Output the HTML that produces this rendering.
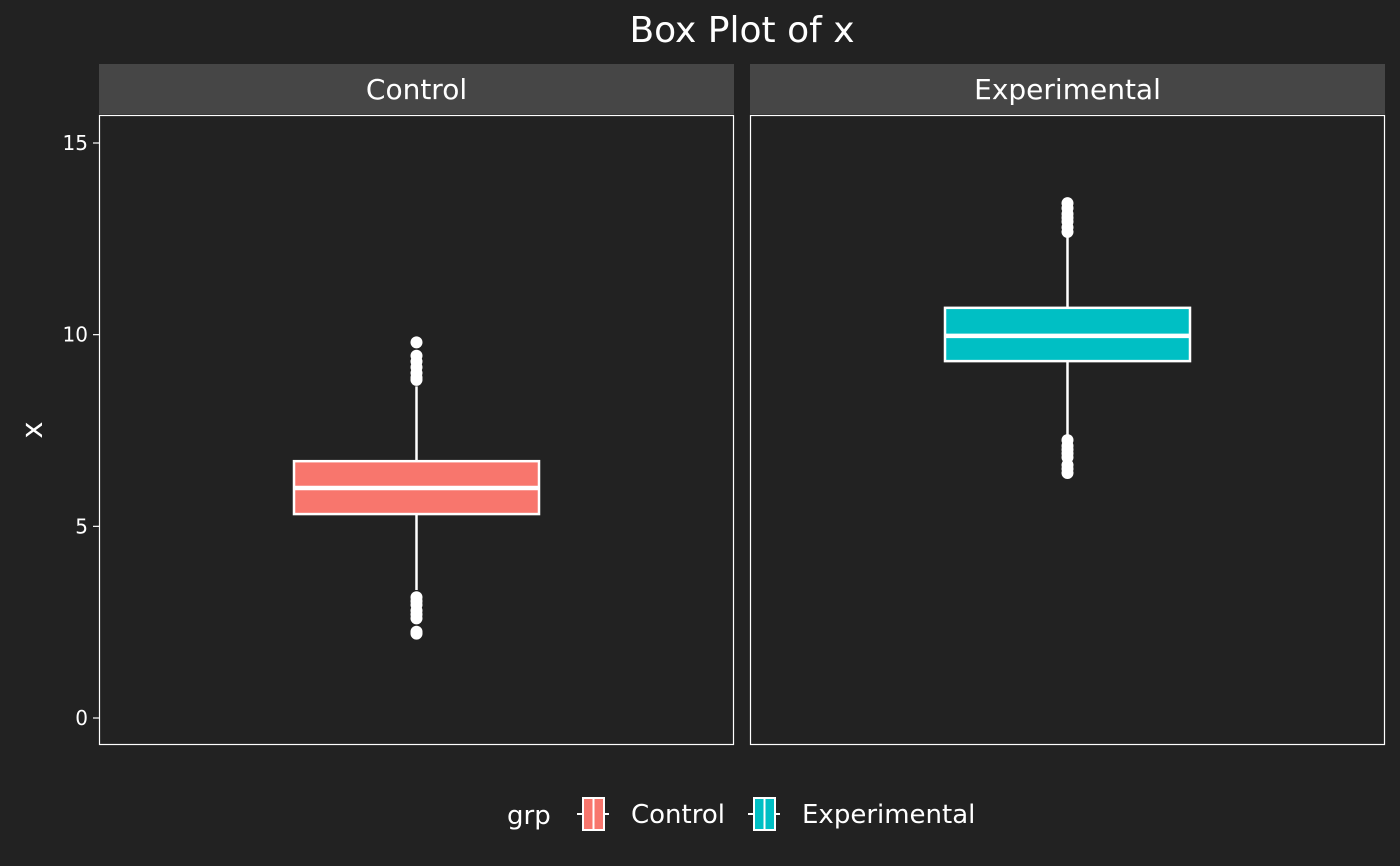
<!DOCTYPE html>
<html><head><meta charset="utf-8"><style>
body{margin:0;background:#222222;}
svg{display:block;font-family:"DejaVu Sans","Liberation Sans",sans-serif;}
</style></head><body>
<svg id="c" width="1400" height="866" xmlns="http://www.w3.org/2000/svg">
<rect width="1400" height="866" fill="#222222"/>
<text x="742" y="42" font-size="36" fill="#fff" text-anchor="middle">Box Plot of x</text>
<text transform="translate(42,430) rotate(-90)" font-size="29" fill="#fff" text-anchor="middle">x</text>
<g id="plot"></g>
<g>
<text x="507" y="824" font-size="26" fill="#fff">grp</text>
<g>
<line x1="577" y1="814" x2="609" y2="814" stroke="#fff" stroke-width="2"/>
<rect x="583" y="798" width="21" height="32" fill="#F8766D" stroke="#fff" stroke-width="2"/>
<line x1="593.5" y1="798" x2="593.5" y2="830" stroke="#fff" stroke-width="2"/>
<text x="631" y="823" font-size="26" fill="#fff">Control</text></g>
<g>
<line x1="748" y1="814" x2="780" y2="814" stroke="#fff" stroke-width="2"/>
<rect x="754" y="798" width="21" height="32" fill="#00BFC4" stroke="#fff" stroke-width="2"/>
<line x1="764.5" y1="798" x2="764.5" y2="830" stroke="#fff" stroke-width="2"/>
<text x="802" y="823" font-size="26" fill="#fff">Experimental</text></g>
</g>
</svg>
<script>
const categories=["Control","Experimental"];
const colors=["#F8766D","#00BFC4"];
const q1=[5.32,9.31];
const medians=[6.0,9.97];
const q3=[6.7,10.7];
const whiskerLow=[3.34,7.38];
const whiskerHigh=[8.65,12.63];
const outliersCtrl=[9.8,9.45,9.3,9.15,9.0,8.88,8.82,3.15,3.05,2.95,2.8,2.7,2.6,2.25,2.2];
const outliersExp=[13.43,13.3,13.15,13.05,12.95,12.8,12.68,7.25,7.1,7.0,6.9,6.8,6.6,6.5,6.39];
const outliers=[outliersCtrl,outliersExp];
const yTicks=[0,5,10,15];

const NS="http://www.w3.org/2000/svg";
const g=document.getElementById('plot');
const panelX=[99,750],panelW=635,pTop=115,pBot=745;
function y(v){return 718-(v-0)*(718-143)/15;}
function mk(t,a,p){const e=document.createElementNS(NS,t);for(const k in a)e.setAttribute(k,a[k]);(p||g).appendChild(e);return e;}
categories.forEach((c,i)=>{
  const x0=panelX[i];
  const strip=mk('rect',{x:x0,y:64,width:panelW,height:50,fill:'#464646'});
  
  
  const st=mk('text',{x:x0+panelW/2,y:99,'font-size':28,fill:'#fff','text-anchor':'middle'});
  st.textContent=c;
  
  
  const pan=mk('rect',{x:x0+0.5,y:pTop+0.5,width:panelW-1,height:pBot-pTop-1,fill:'#222222',stroke:'#fff','stroke-width':1.2});
  
  
  const cx=x0+panelW/2, hw=122.5;
  const wl=mk('line',{x1:cx,x2:cx,y1:y(whiskerHigh[i]),y2:y(whiskerLow[i]),stroke:'#fff','stroke-width':2.5});
  
  
  const b=mk('rect',{x:cx-hw,y:y(q3[i]),width:2*hw,height:y(q1[i])-y(q3[i]),fill:colors[i],stroke:'#fff','stroke-width':2.5});
  
  
  const m=mk('line',{x1:cx-hw,x2:cx+hw,y1:y(medians[i]),y2:y(medians[i]),stroke:'#fff','stroke-width':4.5});
  
  
  outliers[i].forEach(v=>{
    const o=mk('circle',{cx:cx,cy:y(v),r:6,fill:'#fff'});
    
    
  });
});
yTicks.forEach(t=>{
  const tk=mk('line',{x1:93,x2:99,y1:y(t),y2:y(t),stroke:'#fff','stroke-width':1.2});
  
  
  const tl=mk('text',{x:88,y:y(t)+7,'font-size':20,fill:'#fff','text-anchor':'end'});
  tl.textContent=t;
  
  
});
</script>
</body></html>
